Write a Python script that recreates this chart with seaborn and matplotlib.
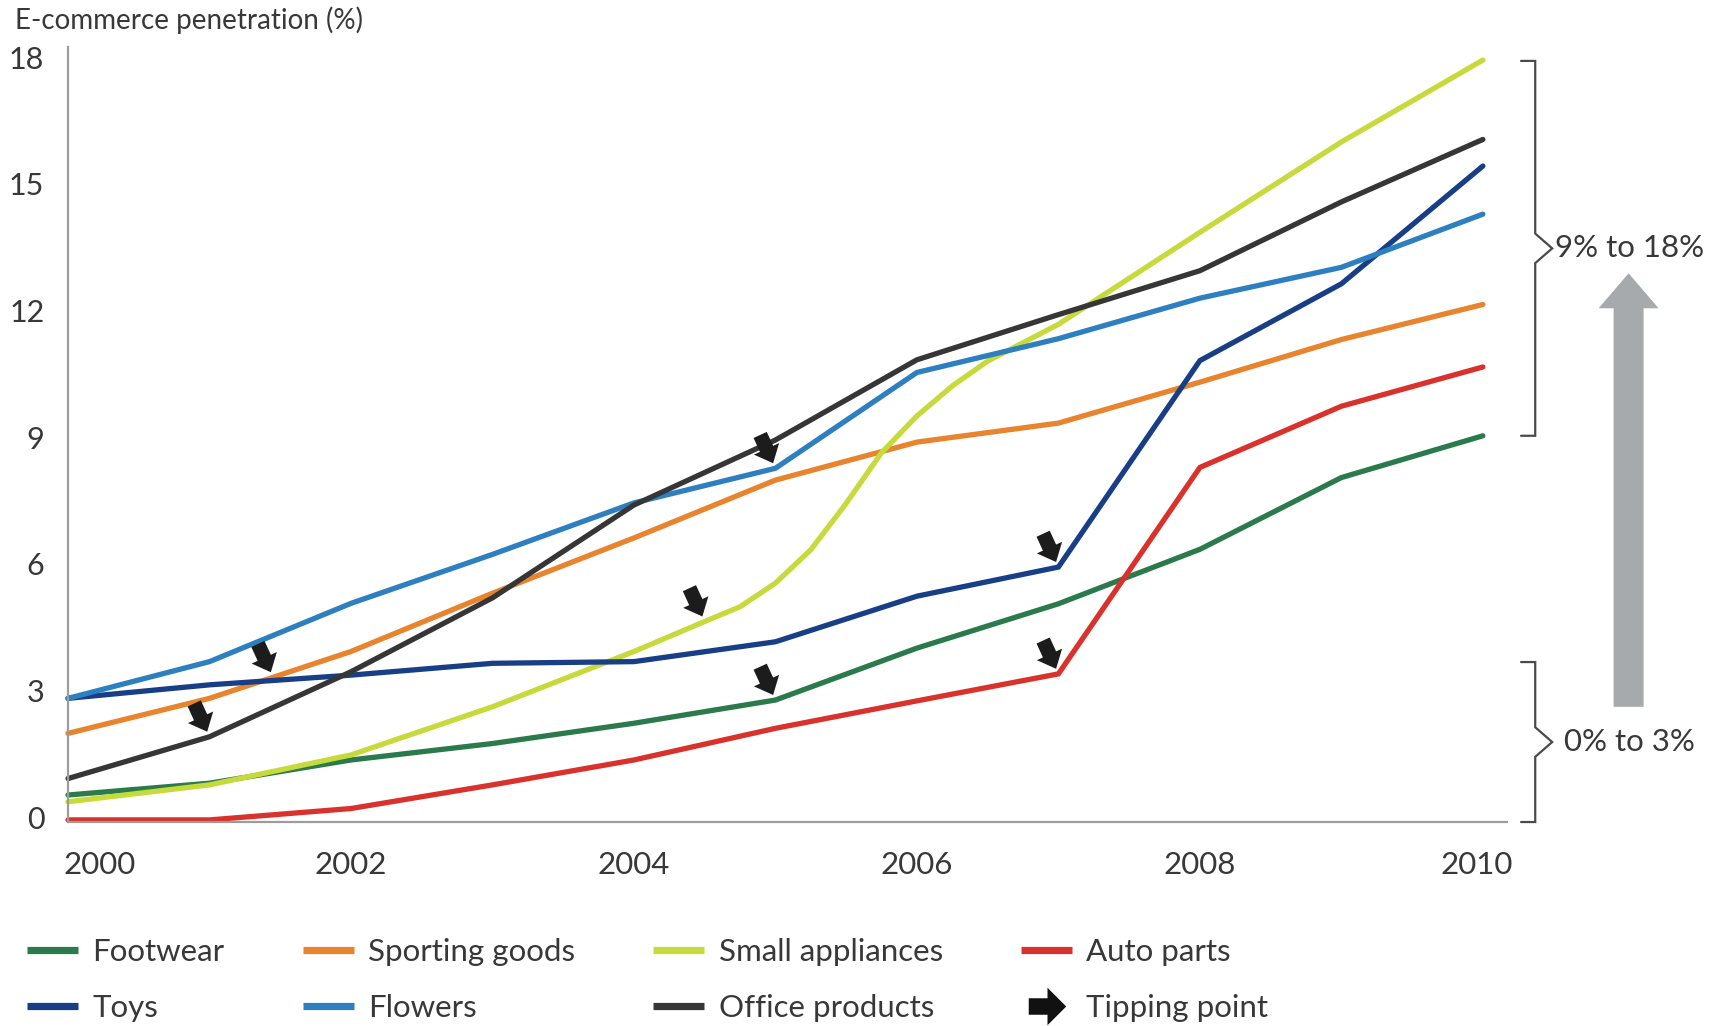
import numpy as np
import pandas as pd
import matplotlib
matplotlib.use("Agg")
import matplotlib.pyplot as plt
import matplotlib.patches as mpatches
from matplotlib.lines import Line2D
from matplotlib.path import Path
from matplotlib.transforms import ScaledTranslation
import seaborn as sns

# ---- data -------------------------------------------------------------
years = [2000, 2001, 2002, 2003, 2004, 2005, 2006, 2007, 2008, 2009, 2010]

footwear = [0.64, 0.92, 1.47, 1.86, 2.34, 2.89, 4.12, 5.17, 6.46, 8.16, 9.15]
sporting_goods = [2.10, 2.93, 4.04, 5.42, 6.73, 8.10, 9.00, 9.45, 10.42, 11.43, 12.26]
auto_parts = [0.05, 0.05, 0.32, 0.88, 1.47, 2.22, 2.87, 3.51, 8.40, 9.85, 10.78]
toys = [2.93, 3.25, 3.48, 3.76, 3.80, 4.27, 5.35, 6.04, 10.93, 12.75, 15.54]
flowers = [2.93, 3.80, 5.18, 6.34, 7.56, 8.38, 10.65, 11.45, 12.41, 13.14, 14.40]
office_products = [1.03, 2.02, 3.56, 5.31, 7.51, 9.05, 10.95, 12.02, 13.06, 14.69, 16.17]

small_appliances_years = [2000, 2001, 2002, 2003, 2004, 2004.5, 2004.75, 2005,
                          2005.25, 2005.5, 2005.75, 2006, 2006.25, 2006.5,
                          2007, 2008, 2009, 2010]
small_appliances = [0.48, 0.88, 1.59, 2.73, 4.04, 4.75, 5.10, 5.66,
                    6.45, 7.55, 8.75, 9.62, 10.33, 10.92,
                    11.79, 13.97, 16.11, 18.05]

categories = ["Footwear", "Sporting goods", "Small appliances", "Auto parts",
              "Toys", "Flowers", "Office products"]
colors = ["#2b7a4b", "#e8832e", "#c6da3b", "#d9312b",
          "#183f85", "#2e7fc0", "#363636"]

# tipping point of each category (year on the curve)
tip_categories = ["Office products", "Sporting goods", "Small appliances",
                  "Flowers", "Footwear", "Toys", "Auto parts"]
tip_years = [2001, 2001.45, 2004.5, 2005, 2005, 2007, 2007]

y_ticks = [0, 3, 6, 9, 12, 15, 18]
x_ticks = [2000, 2002, 2004, 2006, 2008, 2010]

# ---- long-form table --------------------------------------------------
series = {
    "Footwear": (years, footwear),
    "Sporting goods": (years, sporting_goods),
    "Small appliances": (small_appliances_years, small_appliances),
    "Auto parts": (years, auto_parts),
    "Toys": (years, toys),
    "Flowers": (years, flowers),
    "Office products": (years, office_products),
}
frames = [pd.DataFrame({"year": xs, "value": vs, "category": name})
          for name, (xs, vs) in series.items()]
df = pd.concat(frames, ignore_index=True)

# ---- style ------------------------------------------------------------
sns.set_theme(style="white")
plt.rcParams["font.family"] = ["Lato", "DejaVu Sans"]
text_color = "#383838"

fig = plt.figure(figsize=(17.13, 10.26), dpi=100)
ax = fig.add_axes([0.0397, 0.1988, 0.8400, 0.7554])

palette = dict(zip(categories, colors))
sns.lineplot(data=df, x="year", y="value", hue="category",
             hue_order=categories, palette=palette, linewidth=3.8,
             estimator=None, sort=True, legend=False, ax=ax)
for ln in ax.lines:
    ln.set_clip_on(False)
    ln.set_solid_capstyle("round")
    ln.set_solid_joinstyle("miter")

ax.set_xlim(2000, 2010.17)
ax.set_ylim(0, 18.36)

# axes frame
for side in ["top", "right"]:
    ax.spines[side].set_visible(False)
for side in ["left", "bottom"]:
    ax.spines[side].set_color("#9c9c9c")
    ax.spines[side].set_linewidth(1.6)

ax.set_xlabel("")
ax.set_ylabel("")
ax.set_yticks(y_ticks)
ax.set_yticklabels([str(v) for v in y_ticks])
ax.set_xticks(x_ticks)
ax.set_xticklabels([str(v) for v in x_ticks])
ax.tick_params(axis="y", length=0, pad=17, labelsize=22, labelcolor=text_color)
ax.tick_params(axis="x", length=0, pad=21, labelsize=22.5, labelcolor=text_color)

up = ScaledTranslation(0, 0.05, fig.dpi_scale_trans)
for lab in ax.get_yticklabels():
    lab.set_transform(lab.get_transform() + up)
xlabs = ax.get_xticklabels()
xlabs[0].set_horizontalalignment("left")
xlabs[0].set_transform(xlabs[0].get_transform()
                       + ScaledTranslation(-0.05, 0, fig.dpi_scale_trans))
xlabs[-1].set_transform(xlabs[-1].get_transform()
                        + ScaledTranslation(-0.06, 0, fig.dpi_scale_trans))

fig.text(0.0088, 0.9805, "E-commerce penetration (%)", fontsize=20,
         color=text_color, ha="left", va="center")

# ---- tipping point arrows ---------------------------------------------
for name, yr in zip(tip_categories, tip_years):
    xs, vs = series[name]
    val = float(np.interp(yr, xs, vs))
    ax.annotate("", xy=(yr, val), xycoords="data",
                xytext=(-11, 24), textcoords="offset points",
                arrowprops=dict(arrowstyle="simple,head_length=0.6,head_width=1.05,tail_width=0.55",
                                fc="#1c1c1c", ec="none", shrinkA=0, shrinkB=4,
                                mutation_scale=19),
                annotation_clip=False, zorder=5)

# ---- range brackets ---------------------------------------------------
def bracket(y0, y1, x_tick=2010.27, x_line=2010.37, x_tip=2010.49):
    ym = (y0 + y1) / 2
    d = 0.35
    xs = [x_tick, x_line, x_line, x_tip, x_line, x_line, x_tick]
    ys = [y1, y1, ym + d, ym, ym - d, y0, y0]
    ax.plot(xs, ys, color="#4a4a4a", lw=1.6, clip_on=False,
            solid_joinstyle="miter")
    return ym

ym_hi = bracket(9.15, 18.03)
ym_lo = bracket(0.0, 3.79)
ax.text(2010.51, ym_hi, "9% to 18%", fontsize=22.5, color=text_color,
        ha="left", va="center", clip_on=False)
ax.text(2010.57, ym_lo, "0% to 3%", fontsize=22.5, color=text_color,
        ha="left", va="center", clip_on=False)

grey_arrow = mpatches.FancyArrow(2011.03, 2.73, 0, 13.0 - 2.73, width=0.212,
                                 head_width=0.424, head_length=0.83,
                                 length_includes_head=True, color="#a6aaad",
                                 clip_on=False, lw=0)
ax.add_patch(grey_arrow)

# ---- legend -----------------------------------------------------------
line_handles = {name: Line2D([0], [0], color=c, lw=5.2, solid_capstyle="butt")
                for name, c in zip(categories, colors)}
arrow_path = Path([(-0.5, -0.22), (0.0, -0.22), (0.0, -0.5), (0.5, 0.0),
                   (0.0, 0.5), (0.0, 0.22), (-0.5, 0.22), (-0.5, -0.22)],
                  [Path.MOVETO] + [Path.LINETO] * 6 + [Path.CLOSEPOLY])
tip_handle = Line2D([0], [0], linestyle="none", marker=arrow_path,
                    markersize=27, color="#111111", markeredgewidth=0)

order = ["Footwear", "Toys", "Sporting goods", "Flowers",
         "Small appliances", "Office products", "Auto parts", "Tipping point"]
handles = [line_handles.get(n, tip_handle) for n in order]
fig.legend(handles, order, loc="upper left", bbox_to_anchor=(0.0158, 0.086),
           ncol=4, frameon=False, fontsize=22.5, handlelength=1.64,
           handletextpad=0.45, columnspacing=2.5, labelspacing=0.9,
           borderpad=0, borderaxespad=0, labelcolor=text_color, numpoints=1)

fig.savefig("out.png", dpi=100, facecolor="white")
